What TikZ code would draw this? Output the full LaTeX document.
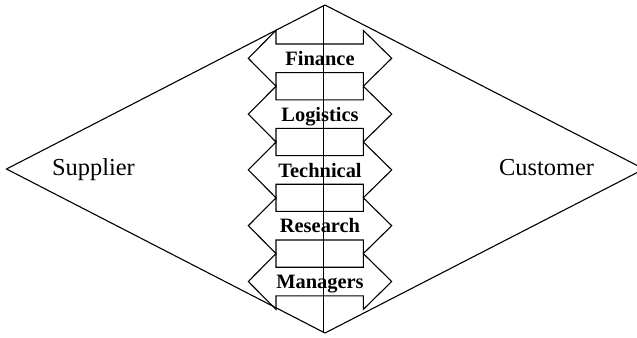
\documentclass[tikz,border=0pt]{standalone}
\usepackage{fontspec}
\setmainfont{Liberation Serif}
\tikzset{
	party/.style={font=\fontsize{24.5}{26}\selectfont, anchor=base},
	dept/.style={font=\fontsize{20.5}{22}\selectfont\bfseries, anchor=base},
}
\begin{document}
\begin{tikzpicture}[x=1bp,y=-1bp,line width=1.1bp]
\useasboundingbox (0,0) rectangle (637,337);
\draw (6.5,169) -- (325,5) -- (644,169) -- (325,333) -- cycle;
\draw (323.3,5) -- (323.3,333);
\foreach \name [count=\i from 0] in {Finance,Logistics,Technical,Research,Managers} {
	\pgfmathsetmacro\t{58.3+55.8*\i}
	\draw (276,\t-27.9) -- (276,\t-14.3) -- (363.3,\t-14.3) -- (363.3,\t-27.9) -- (391.7,\t)
		-- (363.3,\t+27.9) -- (363.3,\t+14.3) -- (276,\t+14.3) -- (276,\t+27.9) -- (248.3,\t) -- cycle;
	\node[dept] (\name) at (320,\t+7.2) {\name};
}
\node[party] (supplier) at (93.5,175.5) {Supplier};
\node[party] (customer) at (546.5,175.5) {Customer};
\end{tikzpicture}
\end{document}
